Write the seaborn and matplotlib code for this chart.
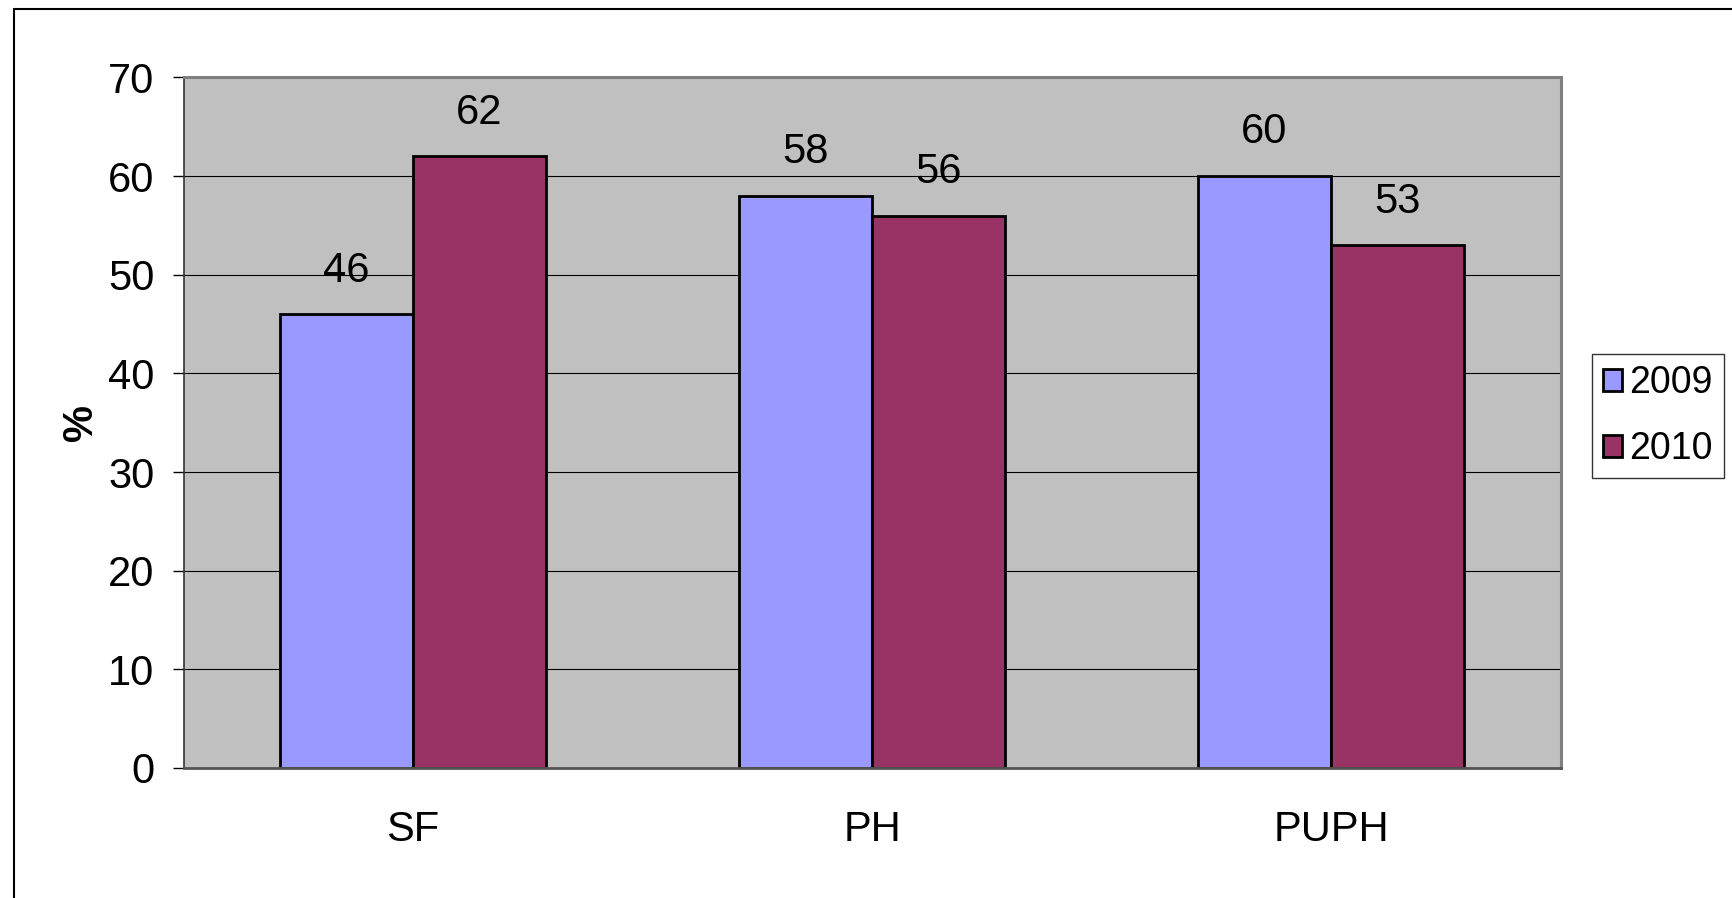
import numpy as np
import pandas as pd
import seaborn as sns
import matplotlib.pyplot as plt
from matplotlib.lines import Line2D

# chart data
categories = ["SF", "PH", "PUPH"]
years = ["2009", "2010"]
values_2009 = [46, 58, 60]
values_2010 = [62, 56, 53]
y_ticks = [0, 10, 20, 30, 40, 50, 60, 70]

df = pd.DataFrame({
    "cat": categories * 2,
    "year": [years[0]] * 3 + [years[1]] * 3,
    "val": values_2009 + values_2010,
})

sns.set_style("white")
plt.rcParams["font.family"] = ["Liberation Sans", "DejaVu Sans"]
plt.rcParams["text.color"] = "black"
plt.rcParams["axes.labelcolor"] = "black"
plt.rcParams["xtick.color"] = "black"
plt.rcParams["ytick.color"] = "black"

FS = 30

fig = plt.figure(figsize=(17.33, 8.98), dpi=100)
ax = fig.add_axes([0.1059, 0.1448, 0.7946, 0.769])
ax.set_facecolor("#C0C0C0")

sns.barplot(data=df, x="cat", y="val", hue="year", palette=["#9999FF", "#993366"],
            edgecolor="black", linewidth=2, width=0.58, saturation=1, ax=ax)

for cont in ax.containers:
    ax.bar_label(cont, fontsize=FS, padding=17, color="black")

ax.set_ylim(0, 70)
ax.set_xlim(-0.5, 2.5)
ax.set_yticks(y_ticks)
ax.yaxis.grid(True, color="black", linewidth=0.8)
ax.set_axisbelow(True)

# category labels at centres, tick marks at the group boundaries
ax.set_xticks(range(len(categories)))
ax.set_xticklabels(categories)
ax.set_xticks(np.arange(-0.5, len(categories), 1.0), minor=True)
ax.tick_params(axis="x", which="major", length=0, labelsize=FS, pad=30)
ax.tick_params(axis="x", which="minor", length=9, width=1, color="black", direction="out")
ax.tick_params(axis="y", length=8, width=1, color="black", direction="out",
               labelsize=FS, pad=13, left=True)

ax.set_xlabel("")
ax.set_ylabel("%", fontsize=FS, fontweight="bold", labelpad=5)

for side in ["top", "right"]:
    ax.spines[side].set_color("#808080")
    ax.spines[side].set_linewidth(2.2)
ax.spines["left"].set_color("#333333")
ax.spines["left"].set_linewidth(1.2)
ax.spines["bottom"].set_color("#555555")
ax.spines["bottom"].set_linewidth(2)

handles, labels = ax.get_legend_handles_labels()
ax.legend_.remove()
leg = fig.legend(handles, labels, loc="upper left", bbox_to_anchor=(0.9186, 0.6058),
                 bbox_transform=fig.transFigure, fontsize=27, frameon=True,
                 fancybox=False, edgecolor="black", handlelength=0.5, handleheight=0.5,
                 handletextpad=0.2, labelspacing=0.8, borderpad=0.3, borderaxespad=0)
leg.get_frame().set_linewidth(1)
for h in leg.legend_handles:
    h.set_edgecolor("black")
    h.set_linewidth(2)

# outer chart frame (left and top edges visible)
fig.add_artist(Line2D([14 / 1733, 14 / 1733], [0, 1 - 9 / 898], color="black", lw=1.5))
fig.add_artist(Line2D([14 / 1733, 1], [1 - 9 / 898, 1 - 9 / 898], color="black", lw=1.5))

fig.savefig("out.png", dpi=100)
